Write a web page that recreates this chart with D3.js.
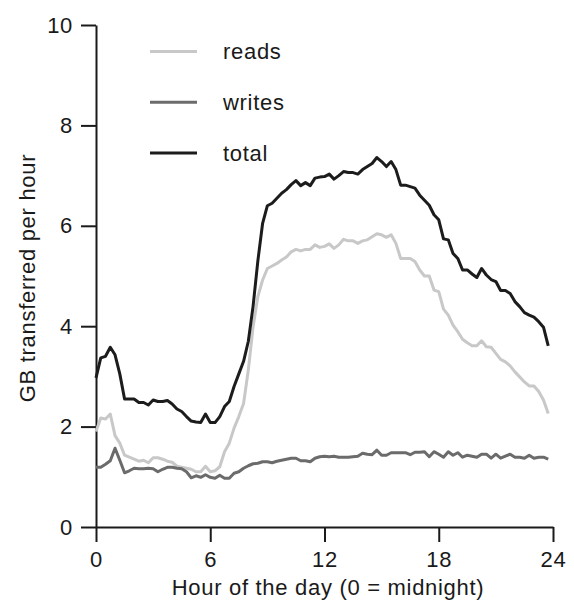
<!DOCTYPE html>
<html>
<head>
<meta charset="utf-8">
<script src="https://cdn.jsdelivr.net/npm/d3@7"></script>
<style>
  body { margin: 0; background: #fff; }
  svg { display: block; }
  text { font-family: "Liberation Sans", Arial, Helvetica, sans-serif; letter-spacing: 0.7px; fill: #1a1a1a; }
</style>
</head>
<body>
<svg width="574" height="601"></svg>
<script>
// one reading every 15 minutes, hour 0 to 23.75
const hours = d3.range(0, 24, 0.25);

const total = [
  2.97, 3.37, 3.40, 3.58, 3.43, 3.05, 2.55, 2.55,
  2.55, 2.48, 2.48, 2.43, 2.53, 2.50, 2.50, 2.52,
  2.45, 2.35, 2.30, 2.20, 2.11, 2.09, 2.08, 2.25,
  2.08, 2.08, 2.20, 2.40, 2.50, 2.80, 3.05, 3.30,
  3.70, 4.40, 5.30, 6.05, 6.40, 6.45, 6.55, 6.65,
  6.72, 6.82, 6.90, 6.80, 6.86, 6.80, 6.95, 6.97,
  6.98, 7.03, 6.93, 7.00, 7.08, 7.06, 7.06, 7.03,
  7.12, 7.18, 7.24, 7.36, 7.28, 7.18, 7.28, 7.12,
  6.81, 6.81, 6.78, 6.75, 6.61, 6.51, 6.41, 6.22,
  6.12, 5.74, 5.72, 5.45, 5.35, 5.12, 5.12, 5.04,
  4.97, 5.15, 5.02, 4.93, 4.89, 4.71, 4.71, 4.65,
  4.49, 4.39, 4.27, 4.22, 4.18, 4.09, 3.98, 3.61
];

const reads = [
  1.90, 2.17, 2.15, 2.25, 1.82, 1.67, 1.43, 1.39,
  1.35, 1.31, 1.33, 1.28, 1.38, 1.38, 1.35, 1.31,
  1.29, 1.21, 1.19, 1.17, 1.15, 1.10, 1.10, 1.21,
  1.10, 1.12, 1.20, 1.50, 1.67, 1.97, 2.20, 2.46,
  3.13, 3.99, 4.59, 4.92, 5.15, 5.20, 5.25, 5.32,
  5.38, 5.48, 5.53, 5.50, 5.53, 5.53, 5.62, 5.57,
  5.59, 5.64, 5.55, 5.62, 5.73, 5.70, 5.70, 5.65,
  5.70, 5.72, 5.78, 5.84, 5.82, 5.77, 5.82, 5.65,
  5.35, 5.35, 5.35, 5.29, 5.12, 5.00, 5.00, 4.72,
  4.69, 4.34, 4.22, 4.02, 3.89, 3.74, 3.67, 3.61,
  3.61, 3.71, 3.59, 3.58, 3.46, 3.34, 3.29, 3.21,
  3.09, 2.99, 2.89, 2.81, 2.81, 2.70, 2.53, 2.26
];

const writes = [
  1.19, 1.19, 1.25, 1.32, 1.57, 1.33, 1.08, 1.12,
  1.17, 1.16, 1.16, 1.17, 1.16, 1.10, 1.15, 1.19,
  1.19, 1.17, 1.16, 1.10, 0.98, 1.02, 0.99, 1.04,
  0.99, 0.97, 1.03, 0.97, 0.97, 1.07, 1.10, 1.17,
  1.22, 1.26, 1.27, 1.30, 1.30, 1.28, 1.31, 1.33,
  1.35, 1.37, 1.37, 1.32, 1.32, 1.30, 1.37, 1.40,
  1.41, 1.40, 1.41, 1.39, 1.39, 1.39, 1.40, 1.41,
  1.47, 1.45, 1.44, 1.53, 1.43, 1.43, 1.48, 1.48,
  1.48, 1.48, 1.44, 1.49, 1.49, 1.50, 1.40, 1.50,
  1.45, 1.39, 1.50, 1.43, 1.48, 1.39, 1.43, 1.41,
  1.39, 1.45, 1.45, 1.37, 1.45, 1.37, 1.41, 1.45,
  1.39, 1.39, 1.37, 1.43, 1.37, 1.39, 1.39, 1.35
];

const xTicks = [0, 6, 12, 18, 24];
const yTicks = [0, 2, 4, 6, 8, 10];
const seriesNames = ['reads', 'writes', 'total'];
const seriesColors = ['#c8c8c8', '#6b6b6b', '#1c1c1c'];

const series = [reads, writes, total].map((vals, i) => ({
  name: seriesNames[i],
  color: seriesColors[i],
  values: vals.map((v, j) => ({ h: hours[j], v: v }))
}));

const svg = d3.select('svg');

const xScale = d3.scaleLinear().domain([0, 24]).range([96, 553]);
const yScale = d3.scaleLinear().domain([0, 10]).range([527, 25]);

const xAxis = d3.axisBottom(xScale)
  .tickValues(xTicks)
  .tickSize(15)
  .tickSizeOuter(0)
  .tickPadding(9);

const yAxis = d3.axisLeft(yScale)
  .tickValues(yTicks)
  .tickSize(15)
  .tickSizeOuter(0)
  .tickPadding(8);

const gx = svg.append('g').attr('id', 'x-axis')
  .attr('transform', `translate(0, ${yScale(0)})`)
  .call(xAxis);

const gy = svg.append('g').attr('id', 'y-axis')
  .attr('transform', `translate(${xScale(0)}, 0)`)
  .call(yAxis);

[gx, gy].forEach(g => {
  g.selectAll('path, line').attr('stroke', '#1a1a1a').attr('stroke-width', 2);
  g.selectAll('text')
    .style('font-size', '22px')
    .attr('fill', '#1a1a1a');
});

// lines
const line = d3.line()
  .x(d => xScale(d.h))
  .y(d => yScale(d.v));

svg.selectAll('path.series').data(series).enter()
  .append('path')
  .attr('class', 'series')
  .attr('d', d => line(d.values))
  .attr('fill', 'none')
  .attr('stroke', d => d.color)
  .attr('stroke-width', 3)
  .attr('stroke-linejoin', 'round');

// LEGEND
const legend = svg.append('g').attr('id', 'legend');
const legendRow = d3.scalePoint().domain(seriesNames).range([51.5, 153]);

legend.selectAll('line').data(series).enter()
  .append('line')
  .attr('x1', 150)
  .attr('x2', 197)
  .attr('y1', d => legendRow(d.name))
  .attr('y2', d => legendRow(d.name))
  .attr('stroke', d => d.color)
  .attr('stroke-width', 3);

legend.selectAll('text').data(series).enter()
  .append('text')
  .attr('x', 223)
  .attr('y', d => legendRow(d.name))
  .attr('dy', '0.35em')
  .style('font-size', '22px')
  .text(d => d.name);

// axis titles
svg.append('text')
  .attr('x', 328)
  .attr('y', 595)
  .attr('text-anchor', 'middle')
  .style('font-size', '22px')
  .text('Hour of the day (0 = midnight)');

svg.append('text')
  .attr('transform', 'translate(35, 278) rotate(-90)')
  .attr('text-anchor', 'middle')
  .style('font-size', '22px')
  .text('GB transferred per hour');
</script>
</body>
</html>
